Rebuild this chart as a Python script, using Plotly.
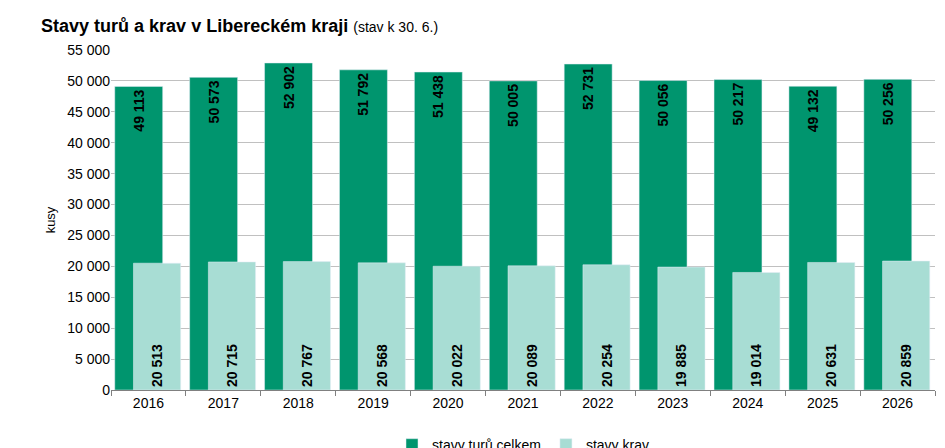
import plotly.graph_objects as go

years = ["2016", "2017", "2018", "2019", "2020", "2021", "2022", "2023", "2024", "2025", "2026"]
tury = [49113, 50573, 52902, 51792, 51438, 50005, 52731, 50056, 50217, 49132, 50256]
kravy = [20513, 20715, 20767, 20568, 20022, 20089, 20254, 19885, 19014, 20631, 20859]


def fmt(v):
    return "<b>" + f"{v:,}".replace(",", " ") + "</b>"


fig = go.Figure()
fig.add_trace(go.Bar(
    x=years, y=tury, name="stavy turů celkem", marker_color="#00956e",
    width=0.64, offset=-0.45, text=[fmt(v) for v in tury],
    textposition="inside", insidetextanchor="end", textangle=-90,
    textfont=dict(size=14, color="black"),
))
fig.add_trace(go.Bar(
    x=years, y=kravy, name="stavy krav", marker_color="#a8ddd4",
    width=0.63, offset=-0.2, text=[fmt(v) for v in kravy],
    textposition="inside", insidetextanchor="start", textangle=-90,
    textfont=dict(size=14, color="black"),
))

fig.update_layout(
    width=945, height=448, barmode="overlay",
    paper_bgcolor="white", plot_bgcolor="white",
    font=dict(family="Liberation Sans, Arial", size=14, color="black"),
    separators=", ",
    title=dict(
        text="<b>Stavy turů a krav v Libereckém kraji</b> <span style='font-size:14px'>(stav k 30. 6.)</span>",
        x=0.035, xanchor="left", y=0.975, yanchor="top", font=dict(size=18),
    ),
    margin=dict(l=103, r=18, t=42, b=66, autoexpand=False),
    legend=dict(orientation="h", x=0.5, xanchor="center", y=-0.115, yanchor="top",
                font=dict(size=14)),
    uniformtext=dict(mode="show", minsize=10),
)
fig.update_yaxes(
    range=[0, 55000], dtick=5000, tickformat=",d", gridcolor="#c0c0c0",
    title=dict(text="kusy", standoff=8, font=dict(size=13)), zeroline=False,
)
fig.update_xaxes(
    showline=True, linecolor="#808080", ticks="outside", tickson="boundaries",
    ticklen=5, tickcolor="#808080",
)

fig.write_html("out.html")
